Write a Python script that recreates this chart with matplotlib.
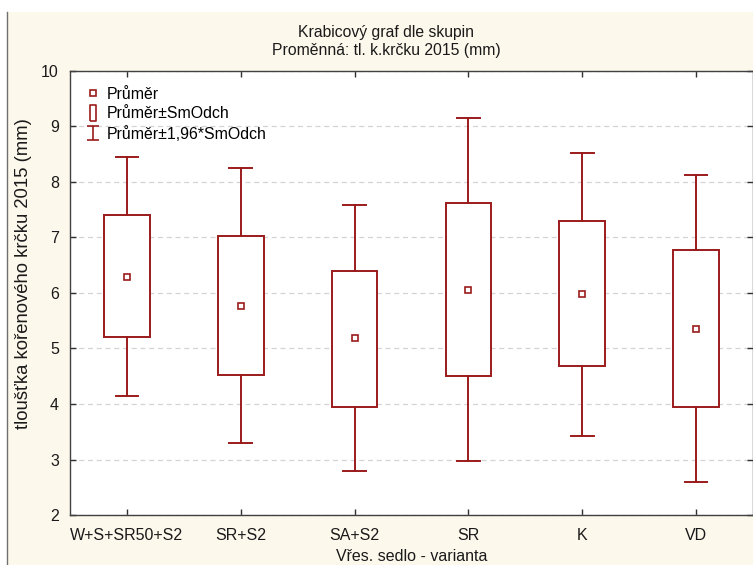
import matplotlib
matplotlib.use("Agg")
import matplotlib.pyplot as plt
from matplotlib.lines import Line2D
from matplotlib.path import Path
from matplotlib.patches import Rectangle

plt.rcParams["font.family"] = ["Liberation Sans", "DejaVu Sans"]

categories = ["W+S+SR50+S2", "SR+S2", "SA+S2", "SR", "K", "VD"]
means = [6.29, 5.77, 5.19, 6.05, 5.98, 5.35]
box_lo = [5.21, 4.52, 3.95, 4.50, 4.68, 3.95]
box_hi = [7.41, 7.03, 6.40, 7.62, 7.30, 6.77]
whisk_lo = [4.14, 3.30, 2.79, 2.97, 3.42, 2.59]
whisk_hi = [8.45, 8.25, 7.59, 9.15, 8.52, 8.13]
yticks = [2, 3, 4, 5, 6, 7, 8, 9, 10]

RED = "#9b1b1b"
CREAM = "#fdf8ec"
TXT = "#1a1a1a"

W, H = 753, 565
fig = plt.figure(figsize=(W / 100, H / 100), dpi=100, facecolor="white")
# cream panel with thin left border
fig.patches.append(Rectangle((7 / W, 0), 1, 1 - 12 / H, transform=fig.transFigure,
                             facecolor=CREAM, edgecolor="none", zorder=-2))
fig.add_artist(Line2D([7 / W, 7 / W], [0, 1 - 12 / H], transform=fig.transFigure,
                      color="#707070", lw=1))

ax = fig.add_axes([70 / W, 1 - 515 / H, (753 - 70) / W, (515 - 71) / H])
ax.set_facecolor("white")

stats = []
for c, m, q1, q3, lo, hi in zip(categories, means, box_lo, box_hi, whisk_lo, whisk_hi):
    stats.append({"label": c, "mean": m, "med": m, "q1": q1, "q3": q3,
                  "whislo": lo, "whishi": hi, "fliers": []})

ax.bxp(stats, positions=range(len(categories)), widths=0.4, capwidths=0.2,
       showmeans=True, showfliers=False, patch_artist=True,
       boxprops=dict(facecolor="white", edgecolor=RED, linewidth=1.4),
       whiskerprops=dict(color=RED, linewidth=1.4),
       capprops=dict(color=RED, linewidth=1.4),
       medianprops=dict(linewidth=0),
       meanprops=dict(marker="s", markersize=5, markerfacecolor="white",
                      markeredgecolor=RED, markeredgewidth=1.2),
       zorder=3)

ax.set_xlim(-0.5, 5.5)
ax.set_ylim(2, 10)
ax.set_yticks(yticks)
ax.set_xticks(range(len(categories)))
ax.set_xticklabels(categories)
ax.yaxis.grid(True, linestyle=(0, (4, 3)), color="#d4d4d4", linewidth=0.9, zorder=0)
ax.set_axisbelow(True)
ax.tick_params(direction="in", top=True, right=True, length=4, width=1,
               color="#303030", labelsize=11.5, labelcolor=TXT)
ax.tick_params(axis="y", pad=8)
ax.tick_params(axis="x", pad=9)
for s in ax.spines.values():
    s.set_color("#404040")
    s.set_linewidth(1)

ax.set_ylabel("tloušťka kořenového krčku 2015 (mm)", fontsize=13.3, color=TXT)
ax.yaxis.set_label_coords(-0.056, 0.543)
ax.set_xlabel("Vřes. sedlo - varianta", fontsize=11.5, color=TXT, labelpad=5)

fig.text(386 / W, 1 - 32 / H, "Krabicový graf dle skupin", ha="center", va="center",
         fontsize=11.3, color=TXT)
fig.text(386 / W, 1 - 50 / H, "Proměnná: tl. k.krčku 2015 (mm)", ha="center",
         va="center", fontsize=11.3, color=TXT)

# legend handles
box_marker = [(-0.2, -0.5), (0.2, -0.5), (0.2, 0.5), (-0.2, 0.5), (-0.2, -0.5)]
i_marker = Path([(-0.4, 0.5), (0.4, 0.5), (0, 0.5), (0, -0.5), (-0.4, -0.5), (0.4, -0.5)],
                [Path.MOVETO, Path.LINETO, Path.MOVETO, Path.LINETO, Path.MOVETO, Path.LINETO])
handles = [
    Line2D([], [], ls="none", marker="s", markersize=4, markerfacecolor="white",
           markeredgecolor=RED, markeredgewidth=1.2),
    Line2D([], [], ls="none", marker=box_marker, markersize=11, markerfacecolor="none",
           markeredgecolor=RED, markeredgewidth=1.2),
    Line2D([], [], ls="none", marker=i_marker, markersize=10, markerfacecolor="none",
           markeredgecolor=RED, markeredgewidth=1.2),
]
ax.legend(handles, ["Průměr", "Průměr±SmOdch", "Průměr±1,96*SmOdch"], loc="upper left",
          bbox_to_anchor=(0.006, 0.99), frameon=False, fontsize=11.4, handlelength=1.0,
          handletextpad=0.35, labelspacing=0.3, borderaxespad=0.3)

fig.savefig("out.png", dpi=100, facecolor=fig.get_facecolor())
